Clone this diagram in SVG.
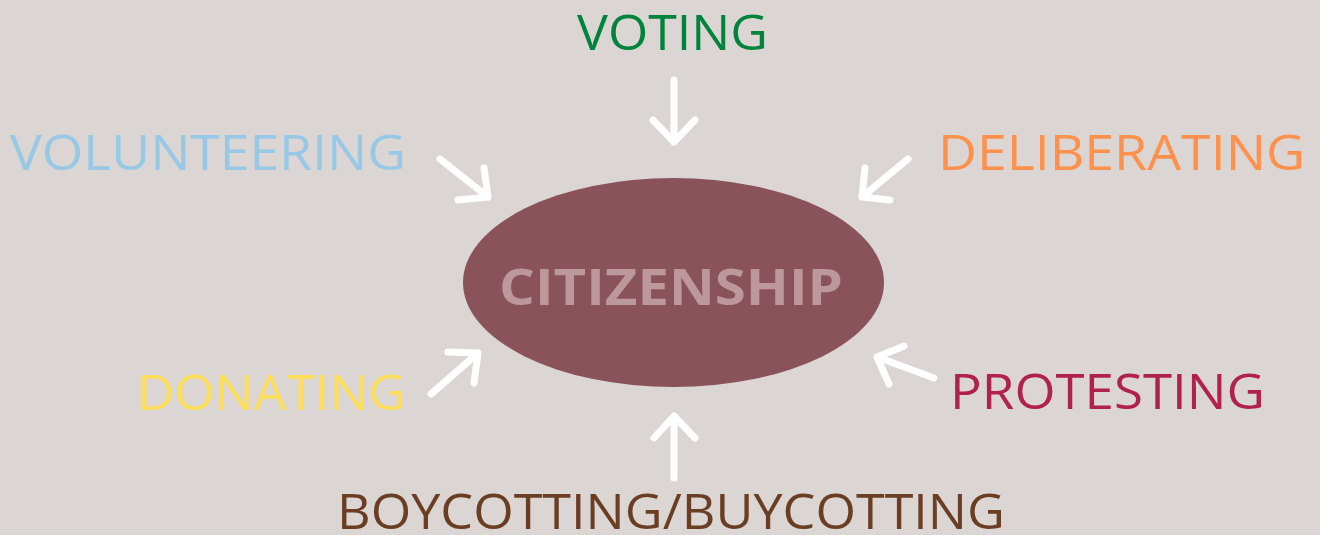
<svg xmlns="http://www.w3.org/2000/svg" width="1320" height="535" viewBox="0 0 1320 535">
<style>
.lbl{font-family:"Open Sans","Liberation Sans",sans-serif;font-size:49px;font-weight:400}
.arr{fill:none;stroke:#FFFFFF;stroke-width:7;stroke-linecap:round;stroke-linejoin:round}
</style>
<rect x="0" y="0" width="1320" height="535" fill="#DBD6D3"/>
<g id="citizenship">
<ellipse cx="673.5" cy="282.5" rx="210.5" ry="104.5" fill="#8A525A"/>
<text x="499" y="305" textLength="344" lengthAdjust="spacingAndGlyphs" style="font-family:'Open Sans','Liberation Sans',sans-serif;font-size:51px;font-weight:700" fill="#BC979B">CITIZENSHIP</text>
</g>
<g id="voting"><text class="lbl" x="577" y="50" textLength="191" lengthAdjust="spacingAndGlyphs" fill="#00843D">VOTING</text></g>
<g id="volunteering"><text class="lbl" x="10" y="170" textLength="396" lengthAdjust="spacingAndGlyphs" fill="#97C9E6">VOLUNTEERING</text></g>
<g id="deliberating"><text class="lbl" x="938" y="170" textLength="367" lengthAdjust="spacingAndGlyphs" fill="#FF914D">DELIBERATING</text></g>
<g id="protesting"><text class="lbl" x="950" y="409" textLength="315" lengthAdjust="spacingAndGlyphs" fill="#B0214B">PROTESTING</text></g>
<g id="donating"><text class="lbl" x="137" y="410" textLength="269" lengthAdjust="spacingAndGlyphs" fill="#FFDE59">DONATING</text></g>
<g id="boycotting"><text class="lbl" x="337" y="529" textLength="668" lengthAdjust="spacingAndGlyphs" fill="#6B3E24">BOYCOTTING/BUYCOTTING</text></g>
<g id="connectors">
<path class="arr" d="M674 80 L674 142 M653 120 L674 142 L695 120"/>
<path class="arr" d="M440 159 L488 197 M484 168 L488 197 L458 200"/>
<path class="arr" d="M908 159 L862 197 M865 168 L862 197 L890 200"/>
<path class="arr" d="M674 478 L674 416 M654 438 L674 416 L695 438"/>
<path class="arr" d="M431 394 L478 353 M448 352 L478 353 L474 383"/>
<path class="arr" d="M934 378 L877 357 M904 346 L877 357 L889 384"/>
</g>
</svg>
